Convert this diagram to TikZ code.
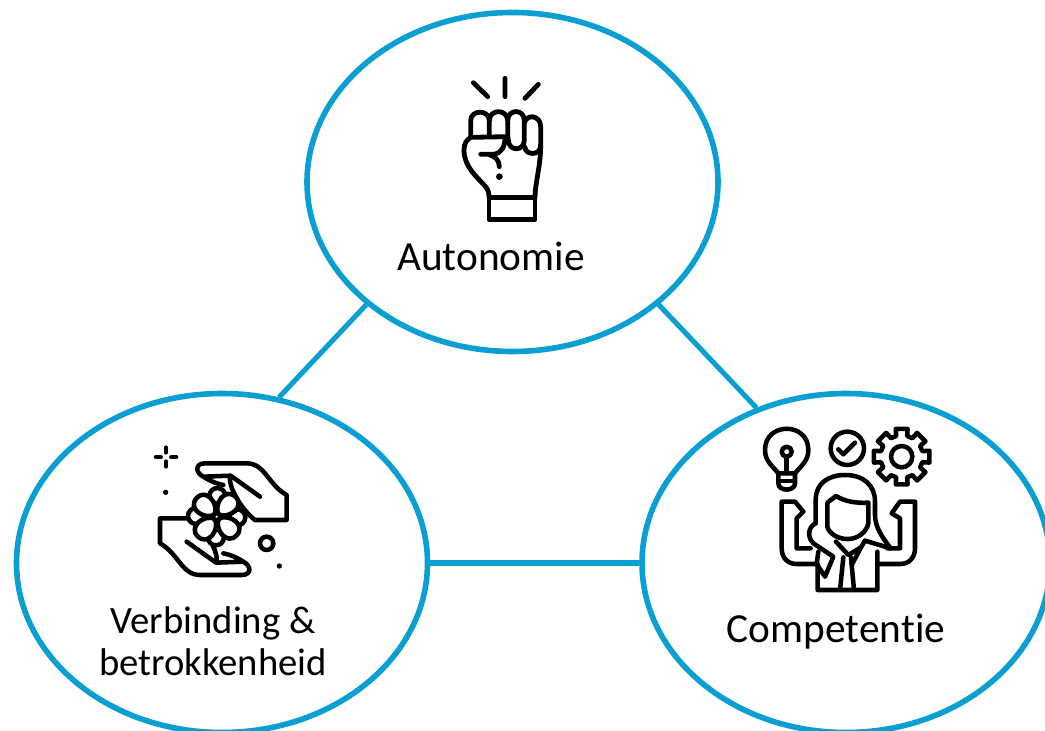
\documentclass[tikz,border=0pt]{standalone}
\usepackage{fontspec}
\setmainfont[Ligatures=NoCommon]{Carlito}
\usetikzlibrary{shapes.geometric}
\definecolor{ringblue}{HTML}{0A9FD3}
\newcommand{\pxu}{*0.75pt}
\tikzset{
 ring/.style={ellipse,draw=ringblue,line width=4.2pt,fill=white,inner sep=0pt,minimum width=411\pxu,minimum height=339\pxu},
 link/.style={draw=ringblue,line width=3.8pt},
 lbl/.style={font=\fontsize{31}{31.5}\selectfont,text=black,align=center,inner sep=0pt},
 lblb/.style={font=\fontsize{29}{31.5}\selectfont,text=black,align=center,inner sep=0pt},
 ico/.style={draw=black,line width=3.6pt,line join=round,line cap=round,fill=none},
 icof/.style={draw=black,line width=3.4pt,line join=round,line cap=round,fill=none},
 dotf/.style={fill=black,draw=none},
}
\begin{document}
\begin{tikzpicture}[x=0.75pt,y=-0.75pt]
\path[use as bounding box] (0,0) rectangle (1045,731);
\begin{scope}
\clip (0,0) rectangle (1045,731);
\node[ring] (top) at (512.5,182) {};
\node[ring] (left) at (222,563) {};
\node[ring,minimum width=408\pxu] (right) at (846,563) {};
\draw[link] (top.220) -- (left.71);
\draw[link] (top.320.6) -- (right.120.7);
\draw[link] (left.east) -- (right.west);
\node[lbl] (ta) at (491,256) {Autonomie};
\node[lblb] (tb) at (213,641) {Verbinding \&\\betrokkenheid};
\node[lbl] (tc) at (836,632) {Competentie};
% fist
\begin{scope}[shift={(440,60)},x=0.25pt,y=-0.25pt]
\draw[ico] (100,68)--(143,110) (195,55)--(195,110) (295,73)--(255,115);
\draw[ico] (92,228)--(92,182) .. controls (92,148) and (148,148) .. (148,182)--(148,228);
\draw[ico] (148,182) .. controls (148,146) and (203,146) .. (203,182)--(203,228);
\draw[ico] (203,180) .. controls (205,146) and (253,146) .. (253,182)--(253,240) .. controls (253,275) and (205,275) .. (205,240)--(203,228);
\draw[ico] (253,190) .. controls (258,160) and (302,165) .. (302,200)--(302,255) .. controls (302,290) and (255,285) .. (255,262);
\draw[ico] (203,230)--(92,232) .. controls (80,240) and (72,250) .. (72,270) .. controls (72,320) and (110,350) .. (135,378) .. controls (145,388) and (147,400) .. (147,412);
\draw[ico] (302,255) .. controls (302,320) and (285,370) .. (285,412);
\draw[ico] (147,412)--(285,412)--(285,478)--(147,478)--cycle;
\draw[ico] (122,283)--(160,283) .. controls (185,280) and (195,260) .. (195,232);
\draw[ico] (150,285) .. controls (165,290) and (178,300) .. (178,320);
\fill[dotf] (178,350) circle (10);
\end{scope}
% hands
\begin{scope}[shift={(140,435)},x=0.25pt,y=-0.25pt]
\foreach \s in {1,-1}{
\begin{scope}[shift={(250,252.5)},xscale=\s,yscale=\s,shift={(-250,-252.5)}]
\draw[icof] (250,150) .. controls (225,145) and (205,135) .. (190,125) .. controls (165,112) and (165,85) .. (195,85)--(320,85) .. controls (375,85) and (385,150) .. (440,180)--(440,255)--(345,255) .. controls (325,240) and (305,215) .. (290,190) .. controls (280,170) and (268,150) .. (270,125) (272,122)--(360,185) (190,125)--(272,122);
\end{scope}}
% flower
\begin{scope}[shift={(230,245)}]
\foreach \a in {0,90,180,270}
 \draw[icof,fill=white] (\a+2:62) circle (24);
\foreach \a in {47,137,227,317}
 \draw[icof,fill=white,rotate=\a] (8,0) .. controls (22,-34) and (82,-42) .. (82,0) .. controls (82,42) and (22,34) .. (8,0) -- cycle;
\draw[icof,fill=white] (0,0) circle (11);
\end{scope}
\draw[icof] (380,325) circle (20);
\fill[dotf] (77,172) circle (8) (418,393) circle (8);
\draw[line width=3.4pt,line cap=round] (78,38)--(78,52) (78,80)--(78,94) (48,66)--(62,66) (94,66)--(108,66);
\end{scope}
% person
\begin{scope}[shift={(750,420)},x=0.25pt,y=-0.25pt]
% bulb
\draw[icof] (85,160) .. controls (70,140) and (45,125) .. (45,90) .. controls (45,5) and (175,5) .. (175,90) .. controls (175,125) and (150,140) .. (135,160)--cycle;
\draw[icof] (85,160)--(85,190) .. controls (85,215) and (135,215) .. (135,190)--(135,160);
\draw[icof] (110,95) circle (15);
\draw[icof] (110,110)--(110,160) (90,183)--(130,183);
% check
\draw[icof] (292,85) circle (50);
\draw[icof] (265,88)--(280,103)--(315,68);
% gear
\draw[icof] (455,110) circle (32);
\draw[icof] ({455+85*cos(-12)},{110+85*sin(-12)})
 \foreach \a in {0,45,...,315}{
  -- ({455+85*cos(\a-12)},{110+85*sin(\a-12)}) -- ({455+85*cos(\a+12)},{110+85*sin(\a+12)})
  -- ({455+64*cos(\a+15)},{110+64*sin(\a+15)}) -- ({455+64*cos(\a+30)},{110+64*sin(\a+30)})
 } -- cycle;
% hair
\draw[icof] (197,310)--(197,240) .. controls (197,190) and (235,165) .. (285,165) .. controls (340,165) and (375,195) .. (375,245)--(375,285) .. controls (375,320) and (395,350) .. (422,385) -- (345,362);
\draw[icof] (197,310) .. controls (175,320) and (170,350) .. (190,370) -- (250,410) -- (225,470) -- (200,432) -- (205,395);
% face
\draw[icof] (232,320)--(232,248)--(258,228) .. controls (285,245) and (320,250) .. (355,248)--(355,310) .. controls (350,335) and (325,357) .. (293,357) .. controls (262,357) and (237,340) .. (232,320)--cycle;
% collar & tie
\draw[icof] (258,365)--(295,405)--(333,382) (345,362)--(333,382)--(305,435);
\draw[icof] (280,412)--(270,510) (303,412)--(312,510);
% body and arms
\draw[icof] (382,395)--(382,510)--(203,510)--(203,432)--(140,432) .. controls (110,432) and (95,410) .. (95,385)--(95,245)--(135,245)--(160,275)--(140,295)--(140,385)--(182,385);
\draw[icof] (382,432)--(450,432) .. controls (480,432) and (495,410) .. (495,385)--(495,245)--(450,245)--(425,280)--(450,295)--(450,385)--(412,385);
\end{scope}
\end{scope}
\end{tikzpicture}
\end{document}
